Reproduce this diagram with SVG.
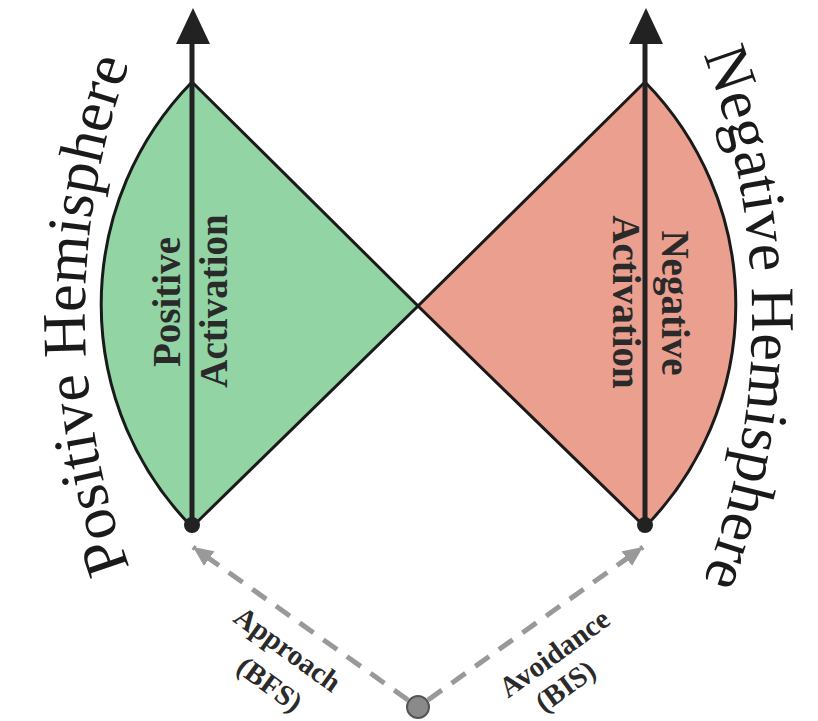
<svg xmlns="http://www.w3.org/2000/svg" width="818" height="721" viewBox="0 0 818 721">
<defs>
<style>
.hemi{font-family:"Liberation Serif","Times New Roman",serif;font-size:62px;fill:#1a1a1a;}
.act{font-family:"Liberation Serif","Times New Roman",serif;font-size:39px;font-weight:bold;fill:#2a2a2a;}
.lab{font-family:"Liberation Serif","Times New Roman",serif;font-size:29px;font-weight:bold;fill:#2a2a2a;}
.sector{stroke:#1a1a1a;stroke-width:3;stroke-linejoin:miter;}
.axis{stroke:#222;stroke-width:5;}
.dash{stroke:#999;stroke-width:5;stroke-dasharray:17 12;fill:none;}
</style>
<path id="leftArc" d="M142.5,600 A735,735 0 0 1 142.5,30" fill="none"/>
<path id="rightArc" d="M694.5,33 A735,735 0 0 1 694.5,603" fill="none"/>
<marker id="garrow" markerUnits="userSpaceOnUse" markerWidth="22" markerHeight="20" refX="20" refY="9" orient="auto">
<path d="M0,0 L20,9 L0,18 Z" fill="#999"/>
</marker>
</defs>
<rect width="818" height="721" fill="#fff"/>
<g id="positive-sector">
<path class="sector" d="M192,82 L418,306 L192,527 A318,318 0 0 1 192,82 Z" fill="#92d4a4"/>
</g>
<g id="negative-sector">
<path class="sector" d="M645,82 L418,306 L645,527 A318,318 0 0 0 645,82 Z" fill="#eb9f8e"/>
</g>
<g id="positive-axis">
<line class="axis" x1="192" y1="40" x2="192" y2="525"/>
<polygon points="193,8 176,44 210,44" fill="#222"/>
<circle cx="192" cy="525" r="8" fill="#222"/>
</g>
<g id="negative-axis">
<line class="axis" x1="645" y1="40" x2="645" y2="525"/>
<polygon points="646,8 629,44 663,44" fill="#222"/>
<circle cx="645" cy="525" r="8" fill="#222"/>
</g>
<g id="positive-labels">
<text class="act" transform="translate(180,302) rotate(-90)" text-anchor="middle">Positive</text>
<text class="act" transform="translate(227,301) rotate(-90)" text-anchor="middle">Activation</text>
<text class="hemi" text-anchor="middle"><textPath href="#leftArc" startOffset="50%">Positive Hemisphere</textPath></text>
</g>
<g id="negative-labels">
<text class="act" transform="translate(662,303) rotate(90)" text-anchor="middle">Negative</text>
<text class="act" transform="translate(613,302) rotate(90)" text-anchor="middle">Activation</text>
<text class="hemi" text-anchor="middle"><textPath href="#rightArc" startOffset="50%">Negative Hemisphere</textPath></text>
</g>
<g id="connectors">
<line class="dash" x1="408" y1="700" x2="193" y2="547" marker-end="url(#garrow)"/>
<line class="dash" x1="428" y1="700" x2="643" y2="547" marker-end="url(#garrow)"/>
</g>
<g id="origin">
<circle cx="418" cy="707" r="11" fill="#8a8a8a" stroke="#555" stroke-width="2"/>
</g>
<g id="approach-label">
<text class="lab" transform="translate(282,657) rotate(36)" text-anchor="middle">Approach</text>
<text class="lab" transform="translate(264,692) rotate(36)" text-anchor="middle">(BFS)</text>
</g>
<g id="avoidance-label">
<text class="lab" transform="translate(560,661) rotate(-36)" text-anchor="middle">Avoidance</text>
<text class="lab" transform="translate(571,694) rotate(-36)" text-anchor="middle">(BIS)</text>
</g>
</svg>
